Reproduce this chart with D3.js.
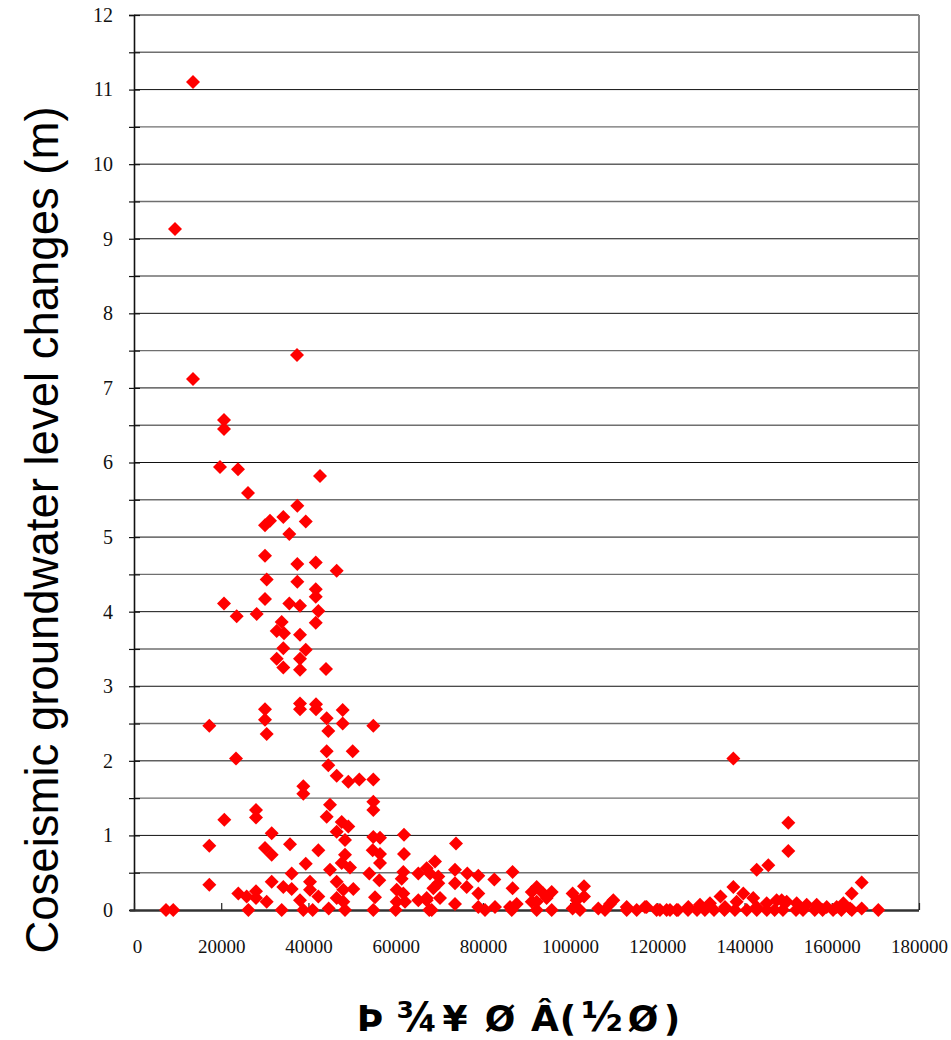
<!DOCTYPE html>
<html>
<head>
<meta charset="utf-8">
<script src="https://cdn.jsdelivr.net/npm/d3@7/dist/d3.min.js"></script>
<style>
  html, body { margin: 0; padding: 0; background: #fff; }
  svg { display: block; }
</style>
</head>
<body>
<svg id="chart" width="951" height="1040"></svg>
<script>
// Epicentral distance (m) of each well
const distances = [
  // large changes near the epicentre
  13530, 9400, 13530, 37380, 20640, 20640, 19720, 23850, 26140, 42650,
  37450, 34240, 31190, 30040, 39380, 35620, 30040, 37450, 41670, 46480,
  30420, 37450, 41670, 41670, 30040, 20640, 35620, 38060, 23550, 28130,
  42270, 41670, 33860, 32720, 34400, 38060, 34240, 39380, 38060, 32720,
  34240, 38060, 44030,
  // moderate changes
  30040, 30040, 30420, 38060, 38060, 41730, 41730, 44180, 47850, 47850,
  44560, 54880, 17270, 23390, 44180, 50150, 44560, 46480, 49140, 51660,
  54880, 38830, 38830, 44940, 44180, 54880, 54880, 27970, 27970, 20710,
  47620, 49140, 46480, 48380, 31570, 54880, 56410, 61910, 17270, 30040,
  31570, 35770, 42270, 48380, 47620, 49530, 54730, 56410, 56410, 61910,
  39380, 44940, 17270, 36160, 73830,
  // small changes
  23920, 25840, 27970, 27970, 30420, 31570, 34240, 36160, 40360, 40360,
  38060, 42270, 46480, 48000, 46480, 50290, 48000, 53960, 56250, 55260,
  61750, 61380, 60230, 61750, 60230, 62140, 65190, 67110, 65190, 67110,
  69020, 67870, 69780, 69780, 68640, 67110, 70160, 73600, 73600, 76430,
  78950, 76280, 78950, 73600, 78950, 82780, 82620, 86810, 86810, 86220,
  87750, 92340, 91200, 93860, 95780, 94620, 92340, 91200, 100580, 103190,
  101510, 103190, 100580, 106470, 109910, 109150, 117170,
  // far field
  137430, 150040, 150040, 142780, 145450, 137430, 134490, 139710, 142000, 145070,
  148510, 164570, 166860, 138180, 132070, 129780, 147360, 149660, 151950, 154250,
  156540, 162660, 112970, 117550, 127110, 135520, 142770, 158840, 161130, 164190,
  // no measurable change
  7340, 9000, 26220, 33860, 38830, 40970, 44640, 48380, 54880, 60000,
  67700, 68260, 80480, 86620, 92340, 95780, 102270, 108000, 112970, 115260,
  119840, 122130, 124420, 120600, 122900, 124740, 127030, 129100, 130900, 133000,
  135400, 137800, 140500, 142800, 145100, 146900, 148800, 151800, 153400, 156100,
  157900, 160300, 162200, 164600, 166860, 170670
];

// Coseismic groundwater level change (m) of each well, same order
const changes = [
  11.10, 9.13, 7.12, 7.44, 6.57, 6.45, 5.94, 5.91, 5.59, 5.82,
  5.42, 5.27, 5.22, 5.16, 5.21, 5.04, 4.75, 4.64, 4.66, 4.55,
  4.43, 4.40, 4.30, 4.20, 4.17, 4.11, 4.11, 4.08, 3.94, 3.97,
  4.01, 3.85, 3.86, 3.74, 3.71, 3.69, 3.51, 3.49, 3.37, 3.37,
  3.25, 3.22, 3.23,
  2.69, 2.55, 2.36, 2.77, 2.69, 2.76, 2.69, 2.57, 2.68, 2.50,
  2.40, 2.47, 2.47, 2.03, 2.13, 2.13, 1.94, 1.80, 1.72, 1.75,
  1.75, 1.66, 1.56, 1.41, 1.25, 1.45, 1.34, 1.34, 1.24, 1.21,
  1.18, 1.12, 1.05, 0.94, 1.03, 0.98, 0.97, 1.01, 0.86, 0.83,
  0.74, 0.88, 0.80, 0.74, 0.63, 0.57, 0.80, 0.75, 0.63, 0.75,
  0.62, 0.54, 0.34, 0.49, 0.89,
  0.22, 0.18, 0.25, 0.16, 0.11, 0.38, 0.31, 0.28, 0.38, 0.27,
  0.13, 0.18, 0.38, 0.27, 0.16, 0.28, 0.11, 0.49, 0.40, 0.17,
  0.51, 0.42, 0.27, 0.22, 0.11, 0.11, 0.49, 0.56, 0.13, 0.13,
  0.65, 0.49, 0.45, 0.36, 0.29, 0.16, 0.16, 0.54, 0.36, 0.49,
  0.46, 0.31, 0.22, 0.08, 0.04, 0.04, 0.41, 0.51, 0.29, 0.04,
  0.08, 0.31, 0.24, 0.22, 0.24, 0.16, 0.11, 0.11, 0.22, 0.32,
  0.13, 0.18, 0.02, 0.02, 0.13, 0.08, 0.04,
  2.03, 1.17, 0.79, 0.54, 0.60, 0.31, 0.18, 0.22, 0.16, 0.09,
  0.13, 0.22, 0.37, 0.11, 0.09, 0.07, 0.13, 0.11, 0.09, 0.07,
  0.07, 0.09, 0.04, 0.04, 0.04, 0.04, 0.04, 0.04, 0.04, 0.02,
  0, 0, 0, 0, 0, 0, 0.02, 0, 0, 0,
  0, 0, 0, 0, 0, 0, 0, 0, 0, 0,
  0, 0, 0, 0, 0, 0, 0, 0, 0, 0,
  0, 0, 0, 0, 0, 0, 0, 0, 0, 0,
  0, 0, 0, 0, 0.02, 0
];

const xTicks = [0, 20000, 40000, 60000, 80000, 100000, 120000, 140000, 160000, 180000];
const yTicks = d3.range(0, 12.01, 0.5);
const yTitle = "Coseismic groundwater level changes (m)";
const xTitleGlyphs = ["Þ", "¾", "¥", "Ø", "Â", "(", "½", "Ø", ")"];

const svg = d3.select("#chart");
const plotLeft = 134, plotRight = 919, plotTop = 15, plotBottom = 910;

const x = d3.scaleLinear().domain([0, 180000]).range([plotLeft, plotRight]);
const y = d3.scaleLinear().domain([0, 12]).range([plotBottom, plotTop]);

// horizontal grid: whole units darker, half units grey
svg.append("g")
  .selectAll("line")
  .data(yTicks.filter(d => d > 0))
  .join("line")
  .attr("x1", plotLeft).attr("x2", plotRight)
  .attr("y1", d => y(d)).attr("y2", d => y(d))
  .attr("stroke", d => Number.isInteger(d) ? "#111" : "#6f6f6f")
  .attr("stroke-width", d => Number.isInteger(d) ? 1 : 1.4);

// right frame edge
svg.append("line")
  .attr("x1", plotRight).attr("x2", plotRight)
  .attr("y1", plotTop).attr("y2", plotBottom)
  .attr("stroke", "#8a8a8a").attr("stroke-width", 2);

// y axis with crossing ticks every half unit
const yAxis = svg.append("g")
  .attr("transform", `translate(${plotLeft},0)`)
  .call(d3.axisLeft(y).tickValues(yTicks).tickSize(5).tickPadding(16)
    .tickFormat(d => Number.isInteger(d) ? d3.format("d")(d) : ""));
yAxis.select(".domain").attr("stroke", "#111").attr("stroke-width", 1.6);
yAxis.selectAll(".tick line").attr("x1", 6).attr("x2", -5).attr("stroke", "#111").attr("stroke-width", 1.2);
yAxis.selectAll(".tick text")
  .attr("font-family", "'Liberation Serif', 'Times New Roman', serif")
  .attr("font-size", 20).attr("fill", "#111");

// x axis with inward ticks
const xAxis = svg.append("g")
  .attr("transform", `translate(0,${plotBottom})`)
  .call(d3.axisBottom(x).tickValues(xTicks).tickSizeInner(-7).tickSizeOuter(0)
    .tickFormat(d3.format("d")));
xAxis.select(".domain").attr("stroke", "#333").attr("stroke-width", 2.4)
  .attr("d", `M${plotLeft - 4},0.5H${plotRight}`);
xAxis.selectAll(".tick line").attr("stroke", "#222").attr("stroke-width", 1.2);
xAxis.selectAll(".tick text")
  .attr("y", 30)
  .attr("font-family", "'Liberation Serif', 'Times New Roman', serif")
  .attr("font-size", 19).attr("fill", "#111");
xAxis.selectAll(".tick").filter(d => d === 0).select("text").attr("dx", 3);

// points as red diamonds
const pts = distances.map((d, i) => ({ d, c: changes[i] }));
svg.append("g")
  .selectAll("path")
  .data(pts)
  .join("path")
  .attr("d", d3.symbol(d3.symbolSquare, 98)())
  .attr("transform", p => `translate(${x(p.d)},${y(p.c)}) rotate(45)`)
  .attr("fill", "#ff0000");

// y axis title
svg.append("text")
  .attr("transform", "translate(58,530) rotate(-90)")
  .attr("text-anchor", "middle")
  .attr("font-family", "'Liberation Sans', Arial, sans-serif")
  .attr("font-size", 45.5)
  .attr("fill", "#000")
  .text(yTitle);

// x axis title
const glyphX = [370, 417, 455, 500, 545, 568, 602, 643, 672];
svg.append("g")
  .selectAll("text")
  .data(xTitleGlyphs)
  .join("text")
  .attr("x", (d, i) => glyphX[i])
  .attr("y", 1031)
  .attr("text-anchor", "middle")
  .attr("font-family", "'DejaVu Sans', sans-serif")
  .attr("font-weight", "bold")
  .attr("font-size", d => (d === "¾" || d === "½") ? 40 : 36)
  .attr("fill", "#000")
  .text(d => d);
</script>
</body>
</html>
